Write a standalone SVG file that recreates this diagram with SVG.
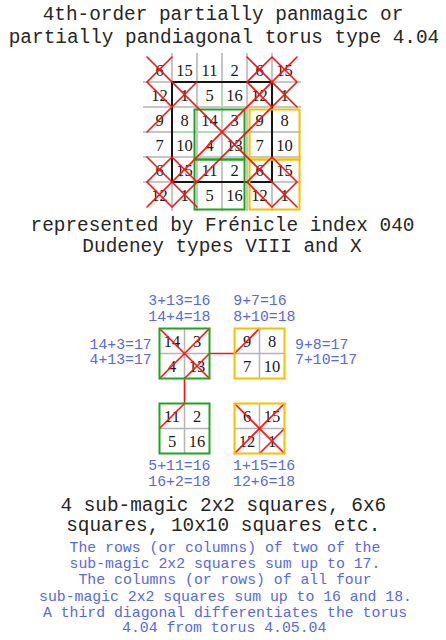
<svg xmlns="http://www.w3.org/2000/svg" width="446" height="640" viewBox="0 0 446 640">
<style>
.t{font-family:"Liberation Mono","DejaVu Sans Mono",monospace;font-size:19.4px;fill:#262626;text-anchor:middle}
.b{font-family:"Liberation Mono","DejaVu Sans Mono",monospace;font-size:14.8px;fill:#5868e2}
.bc{text-anchor:middle}
.n{font-family:"Liberation Serif","DejaVu Serif",serif;font-size:16.5px;fill:#1a1a1a;text-anchor:middle}
.g{stroke:#b4b4b4;stroke-width:1.5;fill:none}
.r{stroke:#ff1010;stroke-width:1.6;fill:none;stroke-linecap:round}
.gr{stroke:#1ea51e;stroke-width:2;fill:none}
.ye{stroke:#f2c200;stroke-width:2;fill:none}
.lg{stroke:#aee0ae;stroke-width:1.5;fill:none}
.bk{stroke:#151515;stroke-width:2;fill:none}
</style>
<rect width="446" height="640" fill="#fff"/>
<g id="title">
<text class="t" x="223" y="19.5">4th-order partially panmagic or</text>
<text class="t" x="224" y="42.7">partially pandiagonal torus type 4.04</text>
</g>
<g id="grid6">
<path class="g" d="M172,53V211M197,53V211M222,53V211M247,53V211M272,53V211M143,82H301M143,107H301M143,132H301M143,157H301M143,182H301"/>
<g class="n">
<text x="159.5" y="75.5">6</text><text x="184.5" y="75.5">15</text><text x="209.5" y="75.5">11</text><text x="234.5" y="75.5">2</text><text x="259.5" y="75.5">6</text><text x="284.5" y="75.5">15</text>
<text x="159.5" y="100.5">12</text><text x="184.5" y="100.5">1</text><text x="209.5" y="100.5">5</text><text x="234.5" y="100.5">16</text><text x="259.5" y="100.5">12</text><text x="284.5" y="100.5">1</text>
<text x="159.5" y="125.5">9</text><text x="184.5" y="125.5">8</text><text x="209.5" y="125.5">14</text><text x="234.5" y="125.5">3</text><text x="259.5" y="125.5">9</text><text x="284.5" y="125.5">8</text>
<text x="159.5" y="150.5">7</text><text x="184.5" y="150.5">10</text><text x="209.5" y="150.5">4</text><text x="234.5" y="150.5">13</text><text x="259.5" y="150.5">7</text><text x="284.5" y="150.5">10</text>
<text x="159.5" y="175.5">6</text><text x="184.5" y="175.5">15</text><text x="209.5" y="175.5">11</text><text x="234.5" y="175.5">2</text><text x="259.5" y="175.5">6</text><text x="284.5" y="175.5">15</text>
<text x="159.5" y="200.5">12</text><text x="184.5" y="200.5">1</text><text x="209.5" y="200.5">5</text><text x="234.5" y="200.5">16</text><text x="259.5" y="200.5">12</text><text x="284.5" y="200.5">1</text>
</g>
<rect class="lg" x="172" y="82" width="50" height="50"/>
<rect class="bk" x="172" y="82" width="100" height="100"/>
<rect class="gr" x="194.5" y="109.5" width="50" height="50"/>
<rect class="gr" x="194.5" y="159.5" width="50" height="50"/>
<rect class="ye" x="249.5" y="109.5" width="50" height="50"/>
<rect class="ye" x="249.5" y="159.5" width="50" height="50"/>
<path class="r" d="M147,57L297,207M297,57L147,207M297,82L172,207M197,82L147,132
M172,57L147,82L172,107
M272,57L297,82M272,57L247,82L272,107
M172,157L147,182L172,207M172,157L197,182
M272,157L297,182M272,157L247,182L272,207M297,182L272,207
M247,57L297,107M147,157L197,207"/>
</g>
<g id="caption1">
<text class="t" x="222.5" y="230.7">represented by Frénicle index 040</text>
<text class="t" x="222" y="251.7">Dudeney types VIII and X</text>
</g>
<g id="connectors">
<path class="r" d="M209.5,353.5H234.5M184.5,378.5V403.5"/>
</g>
<g id="sq-green-top">
<rect x="159.5" y="328.5" width="50" height="50" fill="#fff"/>
<path class="g" d="M184.5,328.5V378.5M159.5,353.5H209.5"/>
<g class="n"><text x="172" y="347">14</text><text x="197" y="347">3</text><text x="172" y="372">4</text><text x="197" y="372">13</text></g>
<path class="r" d="M159.5,328.5L209.5,378.5M209.5,328.5L159.5,378.5M209.5,353.5L184.5,378.5"/>
<rect class="gr" x="159.5" y="328.5" width="50" height="50"/>
</g>
<g id="sq-yellow-top">
<rect x="234.5" y="328.5" width="50" height="50" fill="#fff"/>
<path class="g" d="M259.5,328.5V378.5M234.5,353.5H284.5"/>
<g class="n"><text x="247" y="347">9</text><text x="272" y="347">8</text><text x="247" y="372">7</text><text x="272" y="372">10</text></g>
<path class="r" d="M234.5,353.5L259.5,328.5"/>
<rect class="ye" x="234.5" y="328.5" width="50" height="50"/>
</g>
<g id="sq-green-bottom">
<rect x="159.5" y="403.5" width="50" height="50" fill="#fff"/>
<path class="g" d="M184.5,403.5V453.5M159.5,428.5H209.5"/>
<g class="n"><text x="172" y="422">11</text><text x="197" y="422">2</text><text x="172" y="447">5</text><text x="197" y="447">16</text></g>
<path class="r" d="M184.5,403.5L159.5,428.5"/>
<rect class="gr" x="159.5" y="403.5" width="50" height="50"/>
</g>
<g id="sq-yellow-bottom">
<rect x="234.5" y="403.5" width="50" height="50" fill="#fff"/>
<path class="g" d="M259.5,403.5V453.5M234.5,428.5H284.5"/>
<g class="n"><text x="247" y="422">6</text><text x="272" y="422">15</text><text x="247" y="447">12</text><text x="272" y="447">1</text></g>
<path class="r" d="M234.5,403.5L284.5,453.5M284.5,403.5L234.5,453.5M284.5,428.5L259.5,453.5"/>
<rect class="ye" x="234.5" y="403.5" width="50" height="50"/>
</g>
<g id="labels">
<text class="b" x="148.3" y="305">3+13=16</text>
<text class="b" x="148.3" y="321">14+4=18</text>
<text class="b" x="233.3" y="305">9+7=16</text>
<text class="b" x="233.3" y="321">8+10=18</text>
<text class="b" x="89.5" y="349">14+3=17</text>
<text class="b" x="89.5" y="364.3">4+13=17</text>
<text class="b" x="295" y="349">9+8=17</text>
<text class="b" x="295" y="364.3">7+10=17</text>
<text class="b" x="148.3" y="470">5+11=16</text>
<text class="b" x="148.3" y="485.7">16+2=18</text>
<text class="b" x="233" y="470">1+15=16</text>
<text class="b" x="233" y="485.7">12+6=18</text>
</g>
<g id="caption2">
<text class="t" x="223.3" y="510.7">4 sub-magic 2x2 squares, 6x6</text>
<text class="t" x="223.3" y="530.7">squares, 10x10 squares etc.</text>
</g>
<g id="notes" class="b bc">
<text x="225" y="552.3">The rows (or columns) of two of the</text>
<text x="225" y="567.7">sub-magic 2x2 squares sum up to 17.</text>
<text x="225" y="584.3">The columns (or rows) of all four</text>
<text x="225.5" y="601">sub-magic 2x2 squares sum up to 16 and 18.</text>
<text x="225" y="616.7">A third diagonal differentiates the torus</text>
<text x="224.2" y="632.3">4.04 from torus 4.05.04</text>
</g>
</svg>
